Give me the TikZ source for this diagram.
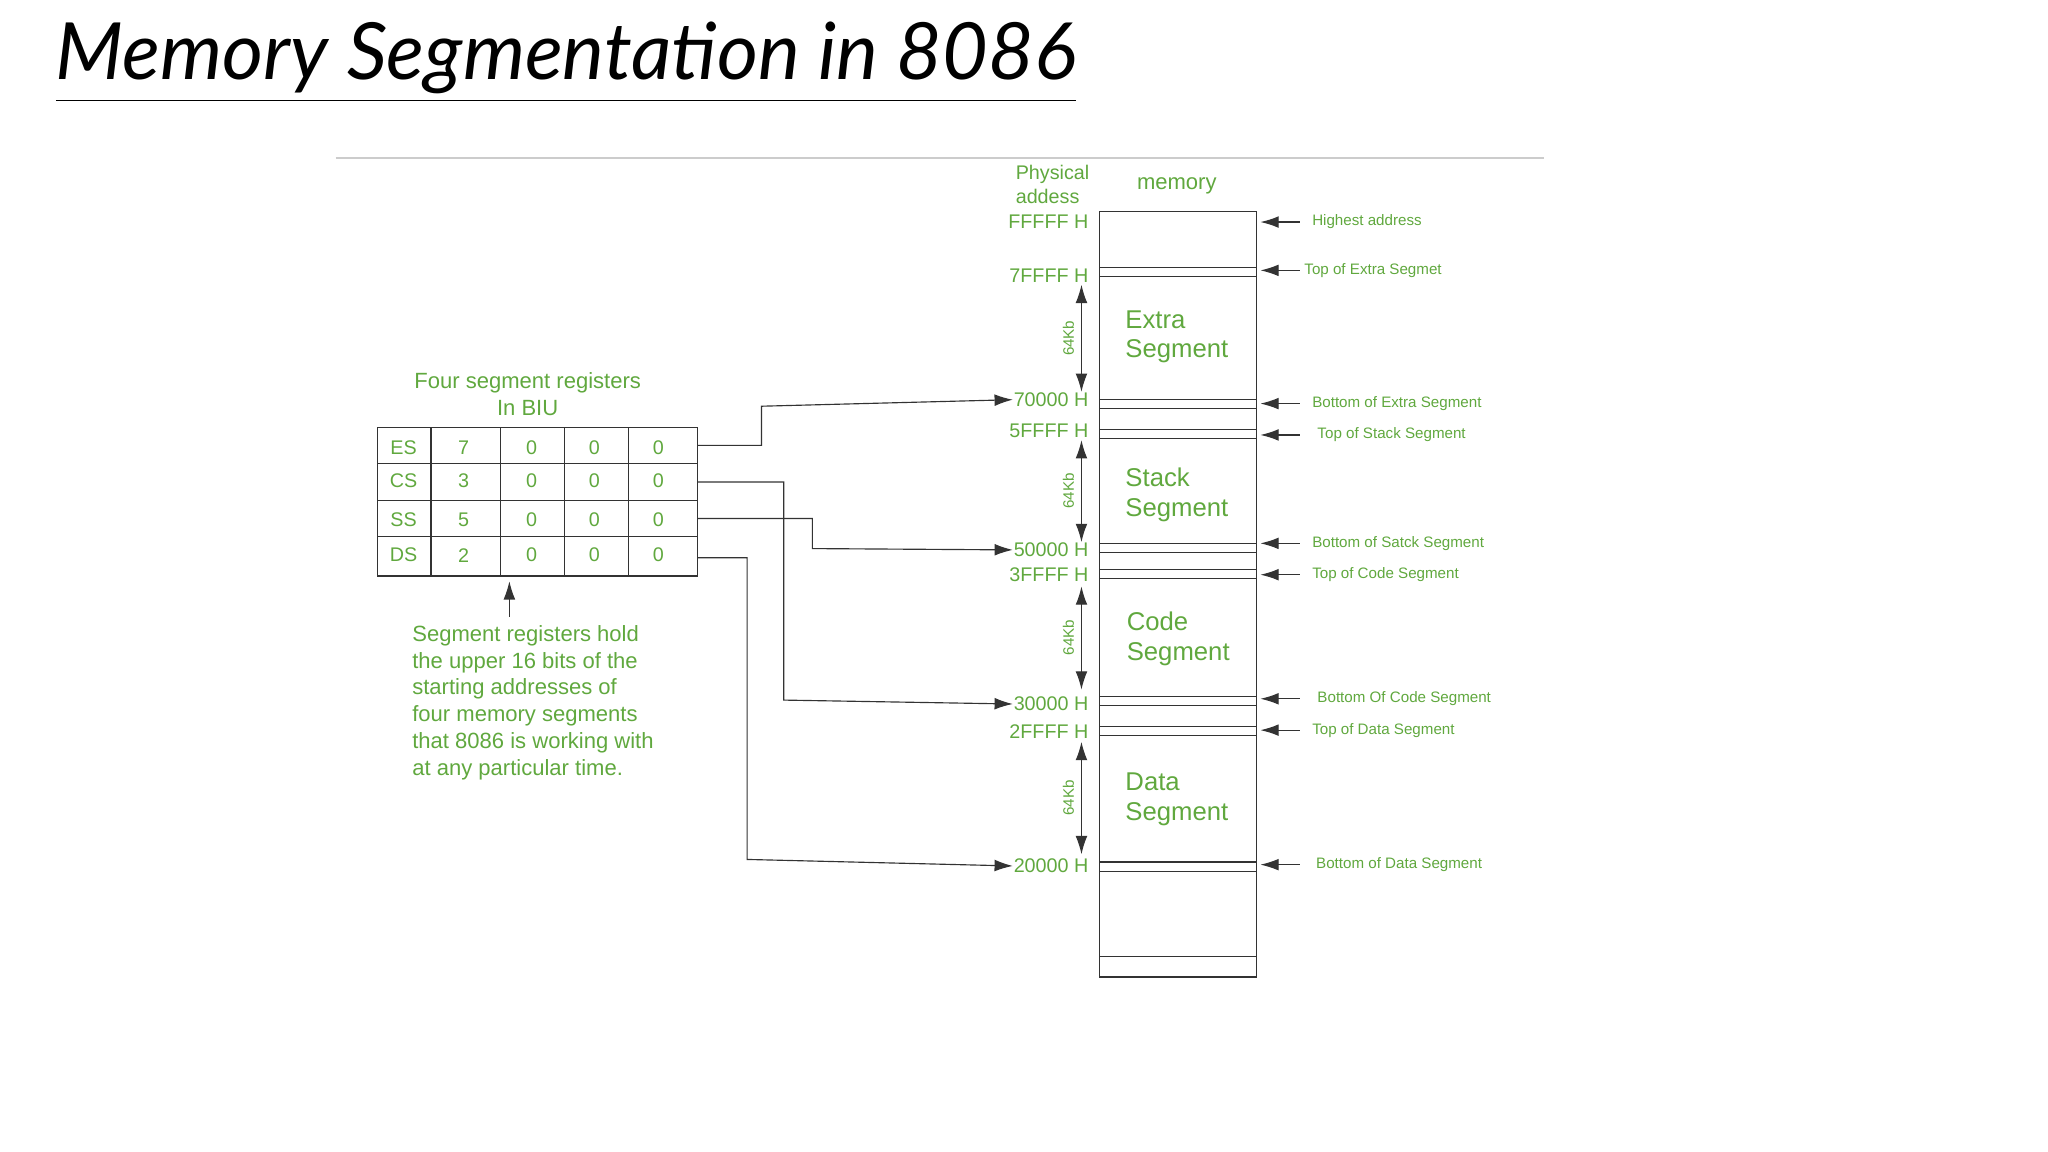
\documentclass[tikz,border=0pt]{standalone}
\usepackage{fontspec}
\setmainfont{Liberation Sans}
\newfontfamily\lato{Lato}[AutoFakeBold=2.5]
\usetikzlibrary{arrows.meta}
\definecolor{gr}{RGB}{96,168,62}
\begin{document}
\begin{tikzpicture}[x=0.1mm,y=-0.1mm,
  lbl/.style={text=gr,font=\fontsize{4.3pt}{5.2pt}\selectfont,inner sep=0},
  sm/.style={text=gr,font=\fontsize{3.3pt}{4pt}\selectfont,inner sep=0},
  big/.style={text=gr,font=\fontsize{5.6pt}{6.4pt}\selectfont,align=left,inner sep=0},
  ln/.style={draw=black!80,line width=0.25pt},
  arr/.style={ln,-{Latex[length=1.4mm,width=0.9mm]}}]
\useasboundingbox (0,0) rectangle (1568,882);
\node[anchor=west,inner sep=0,font=\lato\bfseries\itshape\fontsize{17.2pt}{20pt}\selectfont] (title) at (42,48) {\underline{Memory Segmentation in 8086}};
\draw[black!20,line width=0.3pt] (257,121) -- (1182,121);
% memory
\draw[ln] (842,162) rectangle (962,748);
\foreach \a/\b in {205/212,306/313,329/336,416/423,436/443,533/540,556/563,660/667}{
  \draw[ln] (842,\a) -- (962,\a); \draw[ln] (842,\b) -- (962,\b);}
\draw[ln] (842,732) -- (962,732);
\node[lbl,align=left,anchor=west] (pa) at (777,141) {Physical\\addess};
\node[lbl,font=\fontsize{4.8pt}{6pt}\selectfont] (mem) at (901,142) {memory};
\foreach \n/\y/\t in {fa/170/FFFFF H,fb/211/7FFFF H,fc/306/70000 H,fd/330/5FFFF H,fe/421/50000 H,ff/440/3FFFF H,fg/539/30000 H,fh/560/2FFFF H,fi/663/20000 H}
  \node[lbl,anchor=east] (\n) at (834,\y) {\t};
\node[big,anchor=west] (s1) at (861,258) {Extra\\Segment};
\node[big,anchor=west] (s2) at (861,379) {Stack\\Segment};
\node[big,anchor=west] (s3) at (862,489) {Code\\Segment};
\node[big,anchor=west] (s4) at (861,612) {Data\\Segment};
\foreach \n/\a/\b/\m in {k1/218/300/259,k2/337/415/376,k3/449/528/488,k4/568/654/611}{
  \coordinate (\n a) at (828,\a); \coordinate (\n b) at (828,\b);
  \draw[ln,{Latex[length=1.4mm,width=0.9mm]}-{Latex[length=1.4mm,width=0.9mm]}] (\n a) -- (\n b);
  \node[sm,rotate=90] (\n) at (818,\m) {64Kb};}
\foreach \n/\y/\x/\t in {r1/170/1004/Highest address,r2/207/998/Top of Extra Segmet,r3/309/1004/Bottom of Extra Segment,r4/333/1008/Top of Stack Segment,r5/416/1004/Bottom of Satck Segment,r6/440/1004/Top of Code Segment,r7/535/1008/Bottom Of Code Segment,r8/559/1004/Top of Data Segment,r9/662/1007/Bottom of Data Segment}{
  \coordinate (\n e) at (965,\y);
  \node[sm,anchor=west] (\n) at (\x,\y) {\t};
  \draw[arr] (995,\y) -- (\n e);}
% registers
\node[lbl,align=center,font=\fontsize{4.8pt}{5.9pt}\selectfont] (biu) at (404,302) {Four segment registers\\In BIU};
\draw[ln] (289,327) rectangle (534,441);
\foreach \x in {330,383,432,481} \draw[ln] (\x,327) -- (\x,441);
\foreach \y in {355,383,411} \draw[ln] (289,\y) -- (534,\y);
\foreach \r/\y/\n/\d in {es/343/ES/7,cs/368/CS/3,ss/398/SS/5,ds/425/DS/2}{
  \node[lbl] (\r) at (309,\y) {\n};
  \node[lbl] (\r d) at (355,\y) {\d};
  \node[lbl] at (407,\y) {0}; \node[lbl] at (455,\y) {0}; \node[lbl] at (504,\y) {0};}
\draw[arr] (534,341) -- (583,341) -- (583,311) -- (fc.west);
\draw[arr] (534,369) -- (600,369) -- (600,536) -- (fg.west);
\draw[arr] (534,397) -- (622,397) -- (622,420) -- (fe.west);
\draw[arr] (534,427) -- (572,427) -- (572,658) -- (fi.west);
\coordinate (up) at (390,445);
\draw[arr] (390,472) -- (up);
\node[lbl,align=left,anchor=north west,font=\fontsize{4.8pt}{5.85pt}\selectfont] (txt) at (315,478) {Segment registers hold\\the upper 16 bits of the\\starting addresses of\\four memory segments\\that 8086 is working with\\at any particular time.};
\end{tikzpicture}
\end{document}
